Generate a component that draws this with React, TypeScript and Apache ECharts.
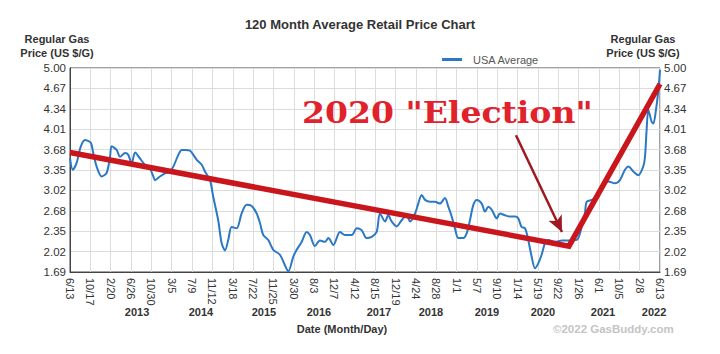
import React, { useEffect, useRef } from "react";
import * as echarts from "echarts";

// X axis: days since 6/13/2012, ticks every 126 days (18 weeks)
const xTickLabels = ["6/13","10/17","2/20","6/26","10/30","3/5","7/9","11/12","3/18","7/22","11/25","3/30","8/3","12/7","4/12","8/15","12/19","4/24","8/28","1/1","5/7","9/10","1/14","5/19","9/22","1/26","6/1","10/5","2/8","6/13"];
const yTickLabels = ["1.69","2.02","2.35","2.68","3.02","3.35","3.68","4.01","4.34","4.67","5.00"];
const yearLabels = ["2013","2014","2015","2016","2017","2018","2019","2020","2021","2022"];
const yearLabelDays = [415, 811, 1201, 1542, 1913, 2235, 2582, 2929, 3301, 3617];

const dayOffsets = [
  0, 17, 41, 66, 93, 128, 144, 165, 196, 227, 248, 258, 289, 310, 341, 361, 382, 403, 434, 464,
  495, 516, 526, 557, 588, 619, 640, 671, 692, 712, 743, 764, 785, 816, 836, 867, 887, 918, 939, 960,
  980, 1001, 1032, 1063, 1094, 1125, 1156, 1177, 1197, 1228, 1259, 1300, 1331, 1352, 1383, 1404, 1435, 1466, 1486, 1517,
  1548, 1579, 1600, 1631, 1672, 1703, 1745, 1776, 1806, 1837, 1868, 1899, 1920, 1951, 1971, 1992, 2023, 2054, 2085, 2106,
  2137, 2157, 2178, 2199, 2230, 2260, 2291, 2322, 2343, 2364, 2384, 2405, 2436, 2457, 2477, 2498, 2519, 2550, 2570, 2591,
  2612, 2643, 2663, 2694, 2725, 2756, 2776, 2797, 2818, 2838, 2859, 2880, 2900, 2921, 2942, 2962, 3004, 3047, 3090, 3138,
  3169, 3189, 3200, 3231, 3251, 3272, 3303, 3334, 3375, 3406, 3437, 3458, 3489, 3519, 3550, 3561, 3571, 3582, 3602, 3613,
  3629, 3644, 3654,
];
const usaAverage = [
  3.54, 3.35, 3.46, 3.72, 3.83, 3.79, 3.62, 3.40, 3.24, 3.30, 3.56, 3.73, 3.67, 3.56, 3.62, 3.59, 3.45, 3.63, 3.53, 3.43,
  3.37, 3.24, 3.18, 3.24, 3.29, 3.32, 3.40, 3.59, 3.67, 3.67, 3.66, 3.59, 3.51, 3.43, 3.32, 3.18, 2.91, 2.53, 2.16, 2.04,
  2.21, 2.42, 2.40, 2.64, 2.78, 2.76, 2.64, 2.48, 2.29, 2.21, 2.05, 1.97, 1.80, 1.70, 1.94, 2.05, 2.18, 2.34, 2.29, 2.11,
  2.20, 2.18, 2.24, 2.13, 2.34, 2.29, 2.29, 2.40, 2.37, 2.24, 2.26, 2.34, 2.64, 2.51, 2.61, 2.51, 2.43, 2.53, 2.61, 2.51,
  2.64, 2.80, 2.94, 2.86, 2.83, 2.83, 2.80, 2.89, 2.75, 2.59, 2.40, 2.24, 2.24, 2.32, 2.53, 2.78, 2.86, 2.80, 2.67, 2.75,
  2.70, 2.56, 2.64, 2.61, 2.59, 2.59, 2.56, 2.42, 2.40, 2.21, 1.94, 1.75, 1.83, 1.97, 2.16, 2.21, 2.18, 2.20, 2.20, 2.21,
  2.42, 2.64, 2.83, 2.86, 2.89, 3.00, 3.10, 3.16, 3.13, 3.18, 3.35, 3.40, 3.32, 3.26, 3.40, 3.56, 3.99, 4.32, 4.13, 4.10,
  4.32, 4.64, 4.97,
];

const trendDays = [0, 3090, 3654];
const trendPrices = [3.63, 2.11, 4.74];
const arrowDays = [2762, 3047];
const arrowPrices = [3.91, 2.34];

const X_MAX = 3654;
const X_STEP = 126;
const Y_MIN = 1.69;
const Y_STEP = 0.331;
const toAxis = (p: number) => (p - Y_MIN) / Y_STEP;

const FONT = "'Liberation Sans', Arial, sans-serif";

export default function App() {
  const ref = useRef<HTMLDivElement>(null);
  useEffect(() => {
    if (!ref.current) return;
    const chart = echarts.init(ref.current, null, { renderer: "svg" });
    const yAxisCommon = {
      type: "value",
      min: 0,
      max: 10,
      interval: 1,
      axisLine: { show: true, lineStyle: { color: "#444", width: 1 } },
      axisTick: { show: false },
      axisLabel: {
        formatter: (v: number) => yTickLabels[Math.round(v)] ?? "",
        color: "#333",
        fontSize: 11.5,
        fontFamily: FONT,
        margin: 4,
      },
    };
    chart.setOption({
      animation: false,
      backgroundColor: "#fff",
      title: {
        text: "120 Month Average Retail Price Chart",
        left: "center",
        top: 13,
        textStyle: { fontSize: 13, fontWeight: "bold", color: "#333", fontFamily: FONT },
      },
      legend: {
        data: ["USA Average"],
        left: 437,
        top: 49,
        icon: "rect",
        itemWidth: 20,
        itemHeight: 3,
        textStyle: { fontSize: 11, color: "#555", fontFamily: FONT, padding: [0, 0, 0, 6] },
      },
      grid: {
        left: 70,
        right: 60,
        top: 68,
        bottom: 82,
        show: true,
        borderColor: "#444",
        borderWidth: 1,
      },
      xAxis: [
        {
          type: "value",
          min: 0,
          max: X_MAX,
          interval: X_STEP,
          axisLine: { show: true, lineStyle: { color: "#444" } },
          axisTick: { show: false },
          splitLine: { show: true, lineStyle: { color: "#dcdcdc", width: 1 } },
          axisLabel: {
            rotate: -90,
            margin: 6,
            color: "#333",
            fontSize: 11,
            fontFamily: FONT,
            showMaxLabel: true,
            formatter: (v: number) => xTickLabels[Math.round(v / X_STEP)] ?? "",
          },
        },
        {
          type: "value",
          min: 0,
          max: X_MAX,
          position: "bottom",
          axisLine: { show: false },
          axisTick: { show: false },
          splitLine: { show: false },
          axisLabel: {
            customValues: yearLabelDays,
            margin: 34,
            color: "#333",
            fontSize: 11,
            fontWeight: "bold",
            fontFamily: FONT,
            formatter: (v: number) => {
              const i = yearLabelDays.indexOf(v);
              return i >= 0 ? yearLabels[i] : "";
            },
          },
        },
      ],
      yAxis: [
        { ...yAxisCommon, position: "left", splitLine: { show: true, lineStyle: { color: "#dcdcdc" } } },
        { ...yAxisCommon, position: "right", splitLine: { show: false } },
      ],
      series: [
        {
          name: "USA Average",
          type: "line",
          data: dayOffsets.map((d, i) => [d, toAxis(usaAverage[i])]),
          showSymbol: false,
          smooth: 0.3,
          lineStyle: { color: "#2b78c5", width: 2 },
          itemStyle: { color: "#2b78c5" },
          z: 3,
        },
        {
          name: "trend",
          type: "line",
          data: trendDays.map((d, i) => [d, toAxis(trendPrices[i])]),
          showSymbol: false,
          lineStyle: { color: "#c9161d", width: 5.5, join: "miter" },
          z: 4,
          markLine: {
            silent: true,
            symbol: ["none", "arrow"],
            symbolSize: [11, 16],
            label: { show: false },
            lineStyle: { color: "#9e1a20", width: 2.5, type: "solid" },
            data: [
              [
                { coord: [arrowDays[0], toAxis(arrowPrices[0])] },
                { coord: [arrowDays[1], toAxis(arrowPrices[1])] },
              ],
            ],
          },
        },
      ],
      graphic: [
        {
          type: "text",
          x: 302,
          y: 98,
          scaleX: 1.14,
          z: 10,
          style: {
            text: '2020 "Election"',
            fontFamily: "'DejaVu Serif', serif",
            fontWeight: "bold",
            fontSize: 29,
            fill: "#e1222b",
            align: "left",
            verticalAlign: "top",
          },
        },
        {
          type: "text",
          x: 57,
          y: 32,
          style: {
            text: "Regular Gas\nPrice (US $/G)",
            fontFamily: FONT,
            fontWeight: "bold",
            fontSize: 11,
            lineHeight: 14,
            fill: "#333",
            align: "center",
          },
        },
        {
          type: "text",
          x: 643,
          y: 32,
          style: {
            text: "Regular Gas\nPrice (US $/G)",
            fontFamily: FONT,
            fontWeight: "bold",
            fontSize: 11,
            lineHeight: 14,
            fill: "#333",
            align: "center",
          },
        },
        {
          type: "text",
          x: 342,
          y: 323,
          style: {
            text: "Date (Month/Day)",
            fontFamily: FONT,
            fontWeight: "bold",
            fontSize: 11,
            fill: "#333",
            align: "center",
          },
        },
        {
          type: "text",
          x: 553,
          y: 323,
          style: {
            text: "\u00a92022 GasBuddy.com",
            fontFamily: FONT,
            fontWeight: "bold",
            fontSize: 11.5,
            fill: "#c4c4c4",
          },
        },
      ],
    });
    return () => chart.dispose();
  }, []);
  return (
    <div
      ref={ref}
      style={{ position: "fixed", left: 0, top: 0, width: 720, height: 354 }}
    />
  );
}
